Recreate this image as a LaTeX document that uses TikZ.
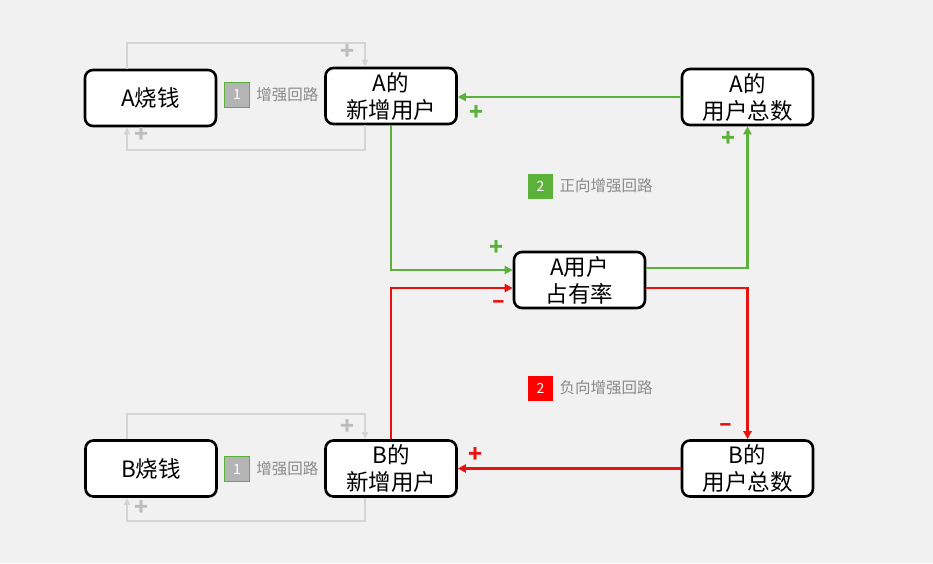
\documentclass[tikz,border=0pt]{standalone}
\usepackage{fontspec}
\setmainfont{Noto Sans CJK SC}
\usetikzlibrary{arrows.meta,positioning}
\definecolor{loopgreen}{HTML}{5BB13A}
\definecolor{loopred}{HTML}{E8120F}
\definecolor{loopgrey}{HTML}{D4D4D4}
\definecolor{signgrey}{HTML}{BDBDBD}
\definecolor{labelgrey}{HTML}{8A8A8A}
\definecolor{tagfill}{HTML}{B4B4B4}
\definecolor{bggrey}{HTML}{F1F1F1}

\begin{document}
\begin{tikzpicture}[x=1pt,y=-1pt,
  box/.style={draw,line width=2.6pt,rounded corners=8pt,fill=white,
    minimum width=131pt,minimum height=56pt,inner sep=0pt,align=center,
    font=\fontsize{22.5}{27}\selectfont},
  tag/.style={minimum size=25pt,inner sep=0pt,text=white,
    font=\fontsize{14}{16}\selectfont},
  tagtext/.style={text=labelgrey,font=\fontsize{15.5}{17}\selectfont},
  sign/.style={font=\bfseries\fontsize{23}{24}\selectfont},
  link/.style={line width=2.4pt,-{Triangle[length=8pt,width=8pt]}},
  backlink/.style={line width=2pt,loopgrey,-{Triangle[length=7pt,width=6pt]}}]

\fill[bggrey] (0,0) rectangle (933,563);

% boxes
\node[box] (aburn) at (150.5,98) {A烧钱};
\node[box] (anew) at (391,96) {A的\\新增用户};
\node[box] (atotal) at (747.5,97) {A的\\用户总数};
\node[box] (ashare) at (579.5,280) {A用户\\占有率};
\node[box] (bburn) at (151,468.5) {B烧钱};
\node[box] (bnew) at (391,468.5) {B的\\新增用户};
\node[box] (btotal) at (747.5,468.5) {B的\\用户总数};

% positive loop (green)
\draw[link,loopgreen] (atotal.west) -- (atotal.west -| anew.east);
\draw[link,loopgreen] (anew.south) |- ([yshift=10pt]ashare.west);
\draw[link,loopgreen] ([yshift=12pt]ashare.east) -| (atotal.south);

% negative loop (red)
\draw[link,loopred] (bnew.north) |- ([yshift=-8pt]ashare.west);
\draw[link,loopred] ([yshift=-8pt]ashare.east) -| (btotal.north);
\draw[link,loopred] (btotal.west) -- (bnew.east);

% burning loops (grey)
\draw[backlink] ([xshift=-23.5pt]aburn.north) -- ++(0,-26) -| ([xshift=-26pt]anew.north);
\draw[backlink] ([xshift=-26pt]anew.south) -- ++(0,25) -| ([xshift=-23.5pt]aburn.south);
\draw[backlink] ([xshift=-24pt]bburn.north) -- ++(0,-25) -| ([xshift=-26pt]bnew.north);
\draw[backlink] ([xshift=-26pt]bnew.south) -- ++(0,23) -| ([xshift=-24pt]bburn.south);

% signs
\node[sign,signgrey] (sa1) at (347,52) {+};
\node[sign,signgrey] (sa2) at (142,135) {+};
\node[sign,signgrey] (sb1) at (347,427) {+};
\node[sign,signgrey] (sb2) at (142,508) {+};
\node[sign,loopgreen] (sg1) at (476,113) {+};
\node[sign,loopgreen] (sg2) at (496,248) {+};
\node[sign,loopgreen] (sg3) at (728,139) {+};
\node[sign,loopred] (sr1) at (499,305) {–};
\node[sign,loopred] (sr2) at (726,428) {–};
\node[sign,loopred] (sr3) at (475,455) {+};

% loop tags
\node[tag,fill=tagfill,draw=loopgreen,line width=0.6pt] (aloop) at (237,95) {1};
\node[tagtext,right=3pt of aloop] (aloopt) {增强回路};
\node[tag,fill=tagfill,draw=loopgreen,line width=0.6pt] (bloop) at (237,469) {1};
\node[tagtext,right=3pt of bloop] (bloopt) {增强回路};
\node[tag,fill=loopgreen] (gloop) at (540.5,186) {2};
\node[tagtext,right=3pt of gloop] (gloopt) {正向增强回路};
\node[tag,fill=red] (rloop) at (540.5,388) {2};
\node[tagtext,right=3pt of rloop] (rloopt) {负向增强回路};
\end{tikzpicture}
\end{document}
